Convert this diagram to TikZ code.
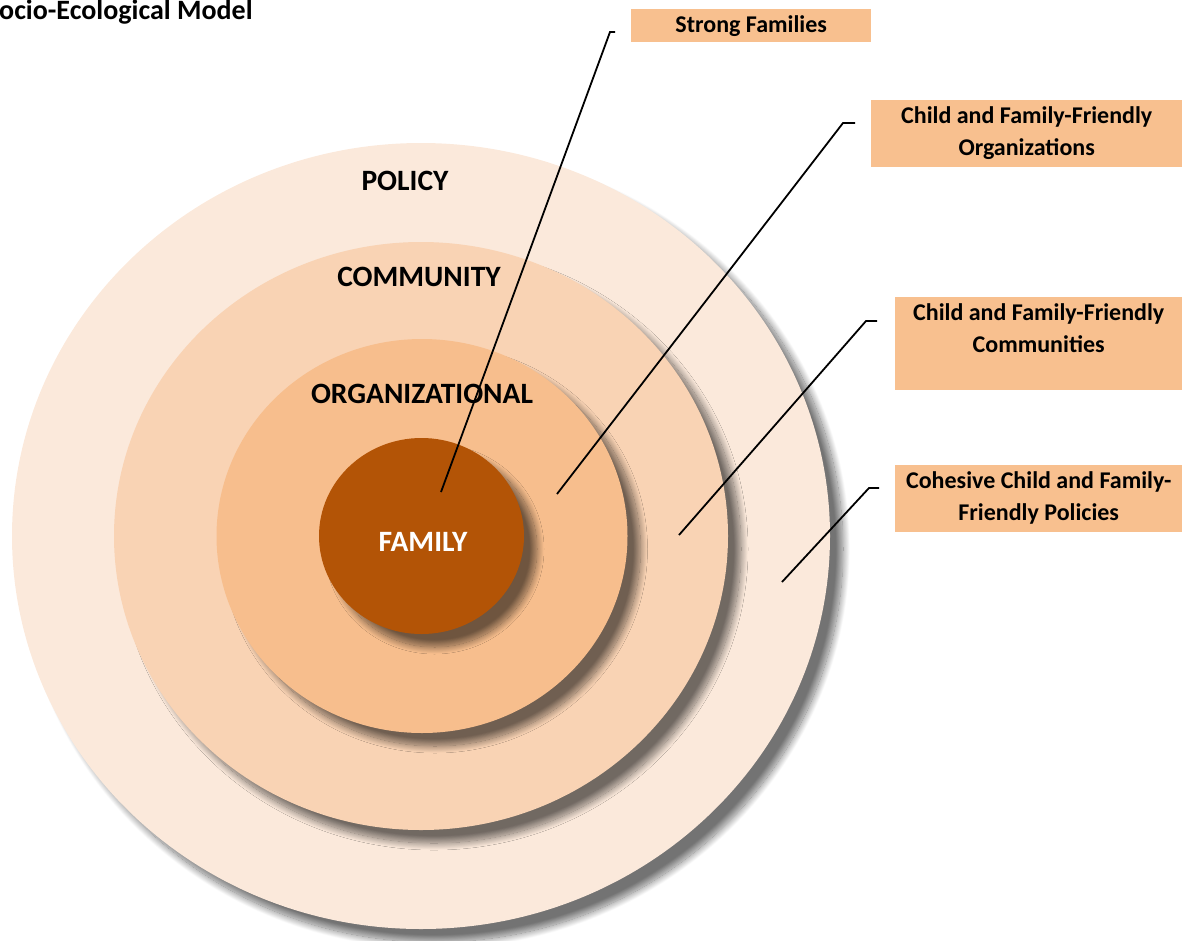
\documentclass[tikz,border=0pt]{standalone}
\usepackage{fontspec}
\setmainfont{Carlito}
\usetikzlibrary{shapes.geometric,shadows.blur}
\definecolor{policyfill}{RGB}{251,233,219}
\definecolor{communityfill}{RGB}{249,211,180}
\definecolor{orgfill}{RGB}{247,190,141}
\definecolor{familyfill}{RGB}{179,84,6}
\definecolor{boxfill}{RGB}{248,192,143}
\tikzset{
  ring/.style={ellipse,inner sep=0pt,
    blur shadow={shadow xshift=13pt,shadow yshift=-13pt,shadow blur radius=7pt,
      shadow blur steps=20,shadow opacity=55}},
  levellabel/.style={inner sep=0pt,font=\bfseries\fontsize{29.5}{34}\selectfont},
  goalbox/.style={fill=boxfill,inner sep=0pt,anchor=north west},
  goaltext/.style={inner sep=0pt,anchor=north,align=center,font=\bfseries\fontsize{24}{32}\selectfont},
  leader/.style={black,line width=1.8pt}
}

\begin{document}
\begin{tikzpicture}[x=1pt,y=-1pt]
\useasboundingbox (0,0) rectangle (1186,940);

% title, at the left edge
\node[anchor=base west,inner sep=0pt,font=\bfseries\fontsize{28}{34}\selectfont] (title) at (-1,19) {ocio-Ecological Model};

% nested levels
\node[ring,fill=policyfill,minimum width=818,minimum height=786] (policy) at (421,536) {};
\node[ring,fill=communityfill,minimum width=614,minimum height=588] (community) at (421,536) {};
\node[ring,fill=orgfill,minimum width=411,minimum height=394] (org) at (422,536) {};
\node[ring,fill=familyfill,minimum width=205,minimum height=196] (family) at (421.5,536) {};

\node[levellabel] (policylabel) at (405,181) {POLICY};
\node[levellabel] (communitylabel) at (419,277) {COMMUNITY};
\node[levellabel] (orglabel) at (422,394) {ORGANIZATIONAL};
\node[levellabel,white] (familylabel) at (423,542) {FAMILY};

% goal boxes
\node[goalbox,minimum width=240,minimum height=33] (strongbox) at (631,9) {};
\node[goaltext,yshift=-6pt] (strongtext) at (strongbox.north) {Strong Families};
\node[goalbox,minimum width=311,minimum height=67] (orgbox) at (871,100) {};
\node[goaltext,yshift=-6pt] (orgtext) at (orgbox.north) {Child and Family-Friendly\\Organizations};
\node[goalbox,minimum width=287,minimum height=93] (commbox) at (895,297) {};
\node[goaltext,yshift=-6pt] (commtext) at (commbox.north) {Child and Family-Friendly\\Communities};
\node[goalbox,minimum width=287,minimum height=67] (policybox) at (895,465) {};
\node[goaltext,yshift=-6pt] (policytext) at (policybox.north) {Cohesive Child and Family-\\Friendly Policies};

% leader lines
\coordinate (strongtip) at (441,492);
\coordinate (strongknee) at (610,32);
\coordinate (strongend) at (615,32);
\coordinate (orgtip) at (557,494);
\coordinate (orgknee) at (843,123);
\coordinate (orgend) at (855,123);
\coordinate (commtip) at (679,535);
\coordinate (commknee) at (866,321);
\coordinate (commend) at (877,321);
\coordinate (policytip) at (782,582);
\coordinate (policyknee) at (869,488);
\coordinate (policyend) at (879,488);
\draw[leader] (strongtip) -- (strongknee) -- (strongend);
\draw[leader] (orgtip) -- (orgknee) -- (orgend);
\draw[leader] (commtip) -- (commknee) -- (commend);
\draw[leader] (policytip) -- (policyknee) -- (policyend);
\end{tikzpicture}
\end{document}
